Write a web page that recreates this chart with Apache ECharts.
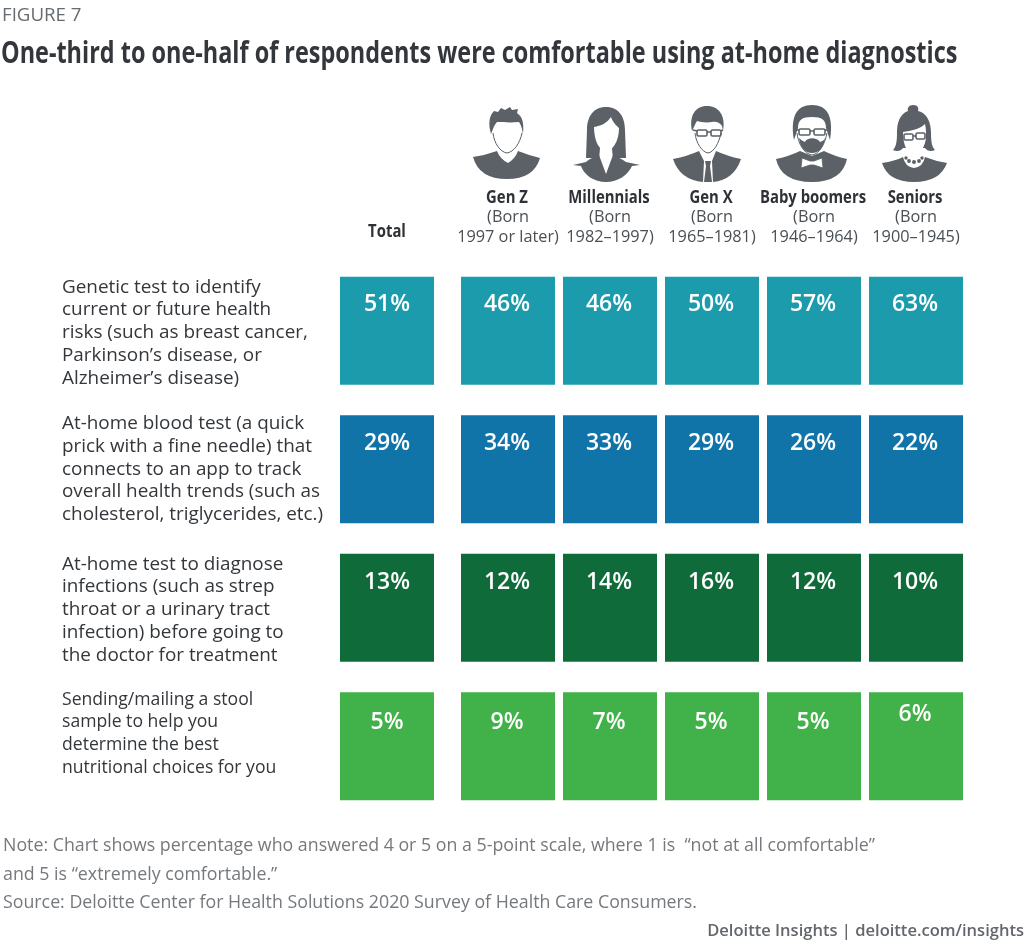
<!DOCTYPE html>
<html><head><meta charset="utf-8">
<script src="https://cdn.jsdelivr.net/npm/echarts@6/dist/echarts.min.js"></script>
<style>html,body{margin:0;padding:0;background:#fff}#c{width:1024px;height:943px}</style>
</head><body><div id="c"></div>
<script>
const rowLabels = [
 "Genetic test to identify\ncurrent or future health\nrisks (such as breast cancer,\nParkinson’s disease, or\nAlzheimer’s disease)",
 "At-home blood test (a quick\nprick with a fine needle) that\nconnects to an app to track\noverall health trends (such as\ncholesterol, triglycerides, etc.)",
 "At-home test to diagnose\ninfections (such as strep\nthroat or a urinary tract\ninfection) before going to\nthe doctor for treatment",
 "Sending/mailing a stool\nsample to help you\ndetermine the best\nnutritional choices for you"
];
const totalName = ["Total"];
const groupNames = ["Gen Z","Millennials","Gen X","Baby boomers","Seniors"];
const groupBorn = ["1997 or later)","1982–1997)","1965–1981)","1946–1964)","1900–1945)"];
const totalValues = [51,29,13,5];
const genZ = [46,34,12,9];
const millennials = [46,33,14,7];
const genX = [50,29,16,5];
const boomers = [57,26,12,5];
const seniors = [63,22,10,6];
const rowColors = ["#1c9bad","#1174a9","#0f6b3a","#41b14a"];
const labelFont = '"Open Sans", sans-serif';

const iconSvg = `<svg xmlns="http://www.w3.org/2000/svg" width="510" height="100" viewBox="460 95 510 100">
<g fill="#5b6166">
<path d="M473,157 Q486,155 497,151 Q500,159 508,163 Q515,159 518,151 Q528,155 540,158 Q534,179 507,179 Q479,179 473,157Z"/>
<path d="M491,134 C488,124 489,116 494,111 L498,112 L501,108 L505,110 L510,107 L512,110 L518,109 L517,113 C523,117 524,124 523,134 C522,128 521,125 519,122 C510,123 502,122 497,122 C494,125 493,129 491,134Z"/>
<path d="M606,107 C593,107 587,117 587,130 L586,158 L626,158 L625,130 C625,117 619,107 606,107Z"/>
<path fill="#fff" d="M594,127 C601,126 607,123 611,117 C613,123 617,126 619,128 C619,142 612,151 606,151 C600,151 594,142 594,127Z M600,148 L612,148 L613,160 L599,160Z"/>
<path d="M573,165 L586,162 C590,158 596,157 599,155 L606,174 L613,155 C618,157 622,159 626,162 L640,165 L632,166 C628,175 618,182 606,182 C594,182 584,175 581,166Z"/>
<path d="M673,159 Q688,156 699,151 L704,161 L703,182 Q680,180 673,159Z M741,159 Q727,156 716,151 L712,161 L713,182 Q734,180 741,159Z"/>
<path d="M705,161 L711,161 L710,166 L712,182 L704,182 L706,166Z"/>
<path d="M692,131 C689,116 695,106 707,106 C719,106 726,116 723,131 L722,126 C720,123 717,121 712,122 C706,123 700,122 697,121 C695,124 694,127 692,131Z"/>
<path d="M776,159 Q790,156 800,151 L812,156 L824,151 Q834,156 847,159 Q842,182 812,182 Q781,182 776,159Z"/>
<path d="M794,140 C790,116 797,105 812,105 C827,105 834,116 830,140 L826,128 C826,120 822,117 812,117 C802,117 798,120 798,128Z"/>
<path d="M805,142 C807,137 817,137 820,142 C823,141 824,140 825,138 C824,147 819,153 812,153 C805,153 800,147 799,138 C801,140 803,141 805,142Z"/>
<path fill="#fff" stroke="#5b6166" stroke-width=".8" d="M802,158 L810,161 L814,161 L822,158 L823,168 L814,165 L810,165 L801,168Z"/>
<path d="M882,163 Q895,161 903,157 Q905,167 914,168 Q923,167 925,157 Q935,161 947,163 Q940,182 914,182 Q888,182 882,163Z"/>
<path d="M913,105 C918,105 919,108 918,111 C927,113 931,122 931,133 C931,142 932,147 935,150 C931,152 927,151 925,148 L903,148 C901,151 897,152 893,150 C896,147 897,142 897,133 C897,122 900,114 908,111 C907,108 909,105 913,105Z"/>
<path fill="#fff" d="M903,132 C911,131 920,129 925,124 C926,128 926,132 926,136 C926,147 919,155 914,155 C908,155 903,146 903,132Z"/>
</g>
<g fill="none" stroke="#5b6166" stroke-width="1">
<path d="M493,133 C494,143 500,152 507,153 C514,152 520,143 522,133"/>
<path d="M695,133 C696,143 702,152 708,153 C714,152 719,143 721,133"/>
<path d="M797,133 C798,143 804,154 812,155 C820,154 825,143 827,133"/>
</g>
<g fill="none" stroke="#5b6166" stroke-width="1.6">
<rect x="697" y="130" width="10" height="6" rx="1.5"/><rect x="711" y="130" width="10" height="6" rx="1.5"/><path d="M707,132 L711,132 M693,130 L697,131 M721,131 L723,130"/>
<rect x="799" y="129" width="11" height="6" rx="1.5"/><rect x="814" y="129" width="11" height="6" rx="1.5"/><path d="M810,131 L814,131 M796,130 L799,130 M825,130 L828,130"/>
<rect x="904" y="134" width="9" height="6" rx="1.5"/><rect x="916" y="133" width="9" height="6" rx="1.5"/><path d="M913,136 L916,136"/>
</g>
<g fill="#5b6166"><circle cx="906" cy="158" r="1.700"/><circle cx="909" cy="161" r="1.900"/><circle cx="914" cy="162" r="2"/><circle cx="919" cy="161" r="1.900"/><circle cx="922" cy="158" r="1.700"/></g>
</svg>`;

const cellW = 94, cellH = 108;
const rowLabelDrop = [28, 28, 29, 30];
const nameY = 198, totalY = 232;
function makeRender(isTotal) {
  return function (params, api) {
    const col = api.value(0), row = api.value(1), v = api.value(2);
    const c = api.coord([col, row]);
    const lifted = v === 6 && row === 3;
    const kids = [
      {type:'rect', shape:{x:c[0]-cellW/2, y:c[1]-cellH/2, width:cellW, height:cellH}, style:{fill:rowColors[row]}},
      {type:'text', x:c[0]-(isTotal?0:1), y:c[1]-cellH/2+(lifted?22:rowLabelDrop[row]), style:{text:v+'%', fill:'#fff', font:'600 23px "Open Sans", sans-serif', align:'center', verticalAlign:'middle'}}
    ];
    if (row === 0) {
      kids.push({type:'text', x:c[0]+(isTotal?0:-1), y:isTotal?totalY:nameY, scaleX:0.8,
        style:{text:isTotal?totalName[0]:groupNames[col], fill:'#2e3236', font:'bold 18.6px "Open Sans", sans-serif', align:'center', verticalAlign:'middle'}});
    }
    return {type:'group', children:kids};
  };
}
const groupData = [genZ, millennials, genX, boomers, seniors]
  .flatMap((vals, g) => vals.map((v, r) => [g, r, v]));
const totalData = totalValues.map((v, r) => [0, r, v]);

const option = {
  animation:false,
  backgroundColor:'#fff',
  grid:[
    {left:340, width:94, top:261.5, height:554},
    {left:457, width:510, top:261.5, height:554}
  ],
  xAxis:[
    {type:'category', gridIndex:0, position:'top', data:totalName, axisLine:{show:false}, axisTick:{show:false}, axisLabel:{show:false}},
    {type:'category', gridIndex:1, position:'top', data:groupNames, axisLine:{show:false}, axisTick:{show:false},
     axisLabel:{margin:14, interval:0, formatter:(n,i)=>`{s|(Born}\n{s|${groupBorn[i]}}`,
       rich:{s:{fontFamily:labelFont,fontSize:16.3,color:'#4a4f54',lineHeight:20,align:'center'}}}}
  ],
  yAxis:[
    {type:'category', gridIndex:0, inverse:true, data:rowLabels, axisLine:{show:false}, axisTick:{show:false},
     axisLabel:{margin:278, align:'left', interval:0,
       formatter:(s,i)=>{
         const lines=s.split('\n'); while(lines.length<5) lines.push(' ');
         const main=i===3?'d':'a';
         const body=lines.map(t=>`{${main}|${t}}`);
         if(i===0||i===2) body.unshift('{p| }');
         if(i===3) body.push('{q| }');
         return body.join('\n');
       },
       rich:{
         a:{fontFamily:labelFont,fontSize:18.9,lineHeight:22.8,color:'#33373b'},
         d:{fontFamily:labelFont,fontSize:17.6,lineHeight:22.8,color:'#33373b'},
         p:{fontSize:2,lineHeight:4},
         q:{fontSize:1,lineHeight:2}
       }}},
    {type:'category', gridIndex:1, inverse:true, data:rowLabels, axisLine:{show:false}, axisTick:{show:false}, axisLabel:{show:false}}
  ],
  series:[
    {type:'custom', xAxisIndex:0, yAxisIndex:0, data:totalData, renderItem:makeRender(true), encode:{x:0,y:1}},
    {type:'custom', xAxisIndex:1, yAxisIndex:1, data:groupData, renderItem:makeRender(false), encode:{x:0,y:1}}
  ],
  graphic:[
    {type:'image', x:460, y:95, style:{image:'data:image/svg+xml;charset=utf-8,'+encodeURIComponent(iconSvg), x:0, y:0, width:510, height:100}},
    {type:'text', x:2, y:16, style:{text:'FIGURE 7', fill:'#666b70', font:'18.7px "Open Sans", sans-serif', verticalAlign:'middle'}},
    {type:'text', x:1, y:54, scaleX:0.756, style:{text:'One-third to one-half of respondents were comfortable using at-home diagnostics', fill:'#33373c', font:'bold 31px "Open Sans", sans-serif', verticalAlign:'middle'}},
    {type:'text', x:3, y:846, style:{text:'Note: Chart shows percentage who answered 4 or 5 on a 5-point scale, where 1 is  “not at all comfortable”', fill:'#75797d', font:'17.8px "Open Sans", sans-serif', verticalAlign:'middle'}},
    {type:'text', x:3, y:875, style:{text:'and 5 is “extremely comfortable.”', fill:'#75797d', font:'17.8px "Open Sans", sans-serif', verticalAlign:'middle'}},
    {type:'text', x:3, y:903, style:{text:'Source: Deloitte Center for Health Solutions 2020 Survey of Health Care Consumers.', fill:'#75797d', font:'17.8px "Open Sans", sans-serif', verticalAlign:'middle'}},
    {type:'text', x:1024, y:931, style:{text:'Deloitte Insights | deloitte.com/insights', fill:'#63676b', font:'600 16.55px "Open Sans", sans-serif', align:'right', verticalAlign:'middle'}}
  ]
};
const chart = echarts.init(document.getElementById('c'), null, {renderer:'canvas'});
chart.setOption(option);
</script></body></html>
